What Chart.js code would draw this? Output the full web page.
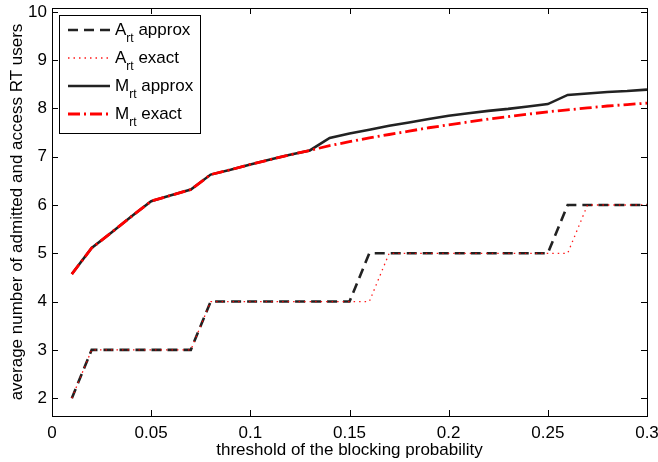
<!DOCTYPE html>
<html>
<head>
<meta charset="utf-8">
<script src="https://cdn.jsdelivr.net/npm/chart.js@4.4.1/dist/chart.umd.min.js"></script>
<style>
  html, body { margin: 0; padding: 0; background: #fff; }
  #wrap { width: 658px; height: 462px; }
</style>
</head>
<body>
<div id="wrap"><canvas id="chart" width="658" height="462"></canvas></div>
<script>
// values
const threshold = [0.01, 0.02, 0.03, 0.04, 0.05, 0.06, 0.07, 0.08, 0.09, 0.10,
                   0.11, 0.12, 0.13, 0.14, 0.15, 0.16, 0.17, 0.18, 0.19, 0.20,
                   0.21, 0.22, 0.23, 0.24, 0.25, 0.26, 0.27, 0.28, 0.29, 0.30];
const artApprox = [2, 3, 3, 3, 3, 3, 3, 4, 4, 4, 4, 4, 4, 4, 4,
                   5, 5, 5, 5, 5, 5, 5, 5, 5, 5, 6, 6, 6, 6, 6];
const artExact  = [2, 3, 3, 3, 3, 3, 3, 4, 4, 4, 4, 4, 4, 4, 4,
                   4, 5, 5, 5, 5, 5, 5, 5, 5, 5, 5, 6, 6, 6, 6];
const mrtApprox = [4.57, 5.11, 5.43, 5.76, 6.08, 6.20, 6.32, 6.63, 6.73, 6.84,
                   6.94, 7.04, 7.13, 7.39, 7.48, 7.56, 7.64, 7.71, 7.78, 7.85,
                   7.90, 7.95, 7.99, 8.04, 8.09, 8.28, 8.31, 8.34, 8.36, 8.39];
const mrtExact  = [4.57, 5.11, 5.43, 5.76, 6.08, 6.20, 6.32, 6.63, 6.73, 6.84,
                   6.94, 7.04, 7.13, 7.23, 7.31, 7.39, 7.46, 7.53, 7.60, 7.66,
                   7.72, 7.78, 7.83, 7.88, 7.93, 7.97, 8.01, 8.05, 8.08, 8.11];

const seriesNames = ['A_rt approx', 'A_rt exact', 'M_rt approx', 'M_rt exact'];
const xTicks = [0, 0.05, 0.1, 0.15, 0.2, 0.25, 0.3];
const xTickLabels = ['0', '0.05', '0.1', '0.15', '0.2', '0.25', '0.3'];
const yTicks = [2, 3, 4, 5, 6, 7, 8, 9, 10];

const FONT = "'Liberation Sans', Arial, Helvetica, sans-serif";
const BLACK = '#222222';
const RED = '#ff0000';

const toPoints = (ys) => ys.map((y, i) => ({ x: threshold[i], y }));

// box, inward ticks and legend with subscripts (MATLAB look)
const matlabAxes = {
  id: 'matlabAxes',
  afterDatasetsDraw(chart) {
    const { ctx, chartArea: a, scales } = chart;
    ctx.save();
    ctx.strokeStyle = '#000';
    ctx.lineWidth = 1;
    ctx.setLineDash([]);
    ctx.beginPath();
    xTicks.forEach((v) => {
      const px = Math.round(scales.x.getPixelForValue(v)) + 0.5;
      ctx.moveTo(px, a.bottom); ctx.lineTo(px, a.bottom - 6);
      ctx.moveTo(px, a.top); ctx.lineTo(px, a.top + 6);
    });
    yTicks.forEach((v) => {
      const py = Math.round(scales.y.getPixelForValue(v)) + 0.5;
      ctx.moveTo(a.left, py); ctx.lineTo(a.left + 6, py);
      ctx.moveTo(a.right, py); ctx.lineTo(a.right - 6, py);
    });
    ctx.stroke();
    ctx.strokeRect(Math.round(a.left) + 0.5, Math.round(a.top) + 0.5,
      Math.round(a.right - a.left), Math.round(a.bottom - a.top));

    // legend
    const bx = 59.5, by = 15.5, bw = 141, bh = 118;
    ctx.fillStyle = '#fff';
    ctx.fillRect(bx, by, bw, bh);
    ctx.strokeStyle = '#000';
    ctx.strokeRect(bx, by, bw, bh);
    chart.data.datasets.forEach((ds, i) => {
      const y = 30 + 28 * i;
      ctx.beginPath();
      ctx.strokeStyle = ds.borderColor;
      ctx.lineWidth = ds.borderWidth;
      ctx.setLineDash(ds.borderDash || []);
      ctx.moveTo(68, y); ctx.lineTo(110, y);
      ctx.stroke();
      ctx.setLineDash([]);
      const m = ds.label.match(/^(\w)_(\w+)(.*)$/);
      ctx.fillStyle = '#000';
      ctx.textBaseline = 'alphabetic';
      ctx.textAlign = 'left';
      let tx = 115;
      ctx.font = '17px ' + FONT;
      ctx.fillText(m[1], tx, y + 5);
      tx += ctx.measureText(m[1]).width;
      ctx.font = '12px ' + FONT;
      ctx.fillText(m[2], tx, y + 12);
      tx += ctx.measureText(m[2]).width;
      ctx.font = '17px ' + FONT;
      ctx.fillText(m[3], tx, y + 5);
    });
    ctx.restore();
  }
};

new Chart(document.getElementById('chart'), {
  type: 'line',
  data: {
    datasets: [
      { label: seriesNames[0], data: toPoints(artApprox), borderColor: BLACK,
        borderWidth: 2.6, borderDash: [10, 6], order: 4 },
      { label: seriesNames[1], data: toPoints(artExact), borderColor: 'rgba(255,0,0,0.9)',
        borderWidth: 1.3, borderDash: [1.5, 4], order: 3 },
      { label: seriesNames[2], data: toPoints(mrtApprox), borderColor: BLACK,
        borderWidth: 2.6, order: 2 },
      { label: seriesNames[3], data: toPoints(mrtExact), borderColor: RED,
        borderWidth: 2.8, borderDash: [12, 4, 2, 4], order: 1 },
    ],
  },
  options: {
    responsive: false,
    animation: false,
    devicePixelRatio: 1,
    elements: {
      point: { radius: 0, hoverRadius: 0 },
      line: { tension: 0, fill: false, borderCapStyle: 'butt', borderJoinStyle: 'miter' },
    },
    layout: { padding: { top: 8, right: 11, bottom: 0, left: 0 } },
    plugins: { legend: { display: false }, tooltip: { enabled: false } },
    scales: {
      x: {
        type: 'linear',
        min: 0,
        max: 0.3,
        afterBuildTicks: (s) => { s.ticks = xTicks.map((v) => ({ value: v })); },
        afterFit: (s) => { s.height = 46; s.paddingLeft = 0; s.paddingRight = 0; },
        grid: { display: false, drawTicks: false },
        border: { display: false },
        ticks: {
          padding: 7,
          color: '#000',
          font: { family: FONT, size: 17 },
          maxRotation: 0,
          callback: (v) => xTickLabels[xTicks.indexOf(v)],
        },
        title: {
          display: true,
          text: 'threshold of the blocking probability',
          color: '#000',
          font: { family: FONT, size: 17 },
          padding: { top: 0, bottom: 1 },
        },
      },
      y: {
        type: 'linear',
        min: 1.63,
        max: 10.08,
        afterBuildTicks: (s) => { s.ticks = yTicks.map((v) => ({ value: v })); },
        afterFit: (s) => { s.width = 52; s.paddingTop = 0; s.paddingBottom = 0; },
        grid: { display: false, drawTicks: false },
        border: { display: false },
        ticks: {
          padding: 5,
          color: '#000',
          font: { family: FONT, size: 17 },
        },
        title: {
          display: true,
          text: 'average number of admitted and access RT users',
          color: '#000',
          font: { family: FONT, size: 17 },
          padding: { top: 7, bottom: 0 },
        },
      },
    },
  },
  plugins: [matlabAxes],
});
</script>
</body>
</html>
